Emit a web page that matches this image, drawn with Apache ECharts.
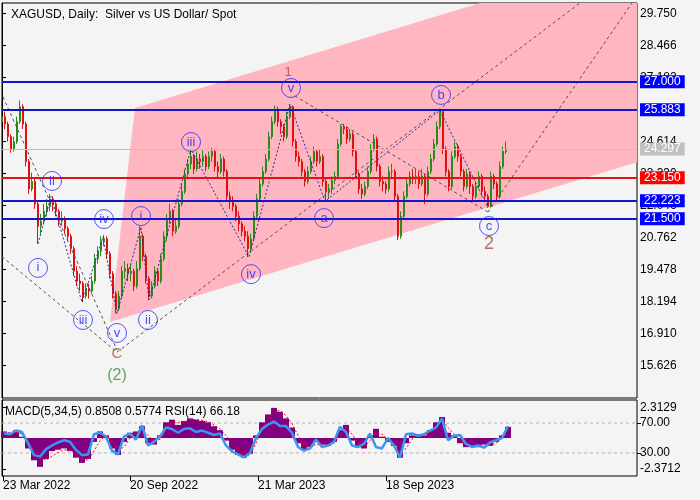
<!DOCTYPE html>
<html><head><meta charset="utf-8">
<script src="https://cdn.jsdelivr.net/npm/echarts@6/dist/echarts.min.js"></script>
<style>html,body{margin:0;padding:0;background:#f4f4f4}#c{width:700px;height:500px}</style>
</head><body><div id="c"></div>
<script>
// ---- price data (one candle per 3 trading days, day index 0 = 23 Mar 2022) ----
const candleStepDays = 3;
const firstOpen = 25.4;
const closes = [25.6,25.3,24.8,24.3,24.6,25.4,26.0,25.3,23.8,22.7,
23.0,22.1,21.2,21.4,21.8,22.0,22.3,22.1,21.8,21.4,
21.5,21.1,20.8,20.3,19.4,19.0,18.9,18.4,18.7,18.6,
19.0,19.9,20.2,20.6,20.7,20.1,19.3,18.5,17.9,18.4,
19.4,19.5,19.3,19.4,18.8,19.5,20.8,20.0,19.1,18.4,
18.8,19.4,19.0,19.9,20.8,21.5,21.8,21.0,21.2,22.1,
22.6,23.3,23.7,24.0,23.5,23.9,23.8,24.0,23.6,24.0,
24.2,23.6,23.4,23.9,23.4,22.4,22.2,22.0,21.6,21.3,
21.0,20.8,20.3,20.7,21.6,22.3,22.9,23.4,23.9,24.8,
25.4,25.9,25.4,25.2,24.8,25.6,26.0,24.6,24.0,23.8,
23.4,23.0,23.4,23.8,24.2,23.8,24.0,23.0,22.6,22.7,
23.05,23.2,24.5,25.2,25.1,24.7,24.9,24.2,23.3,22.7,
22.5,22.8,23.4,24.3,24.7,23.6,23.0,22.9,22.7,23.4,
23.4,22.4,20.8,21.6,22.4,22.9,23.2,23.1,23.2,22.9,
23.2,22.5,23.4,23.9,24.5,25.2,25.8,24.3,23.4,22.8,
24.0,24.4,24.0,23.4,22.8,23.3,22.8,22.4,22.8,23.2,
22.6,22.4,22.0,23.2,22.9,22.4,23.6,24.2,24.3];
const highs = [26.3,25.8,25.4,24.9,24.8,25.6,26.25,26.1,25.4,23.9,
23.35,23.1,22.2,21.7,22.1,22.3,22.5,22.4,22.2,21.9,
21.8,21.6,21.2,20.9,20.4,19.6,19.3,19.0,18.9,18.9,
19.2,20.1,20.4,20.8,20.85,20.8,20.2,19.4,18.6,18.6,
19.6,19.8,19.7,19.7,19.5,19.8,21.2,20.9,20.1,19.2,
19.0,19.6,19.5,20.1,21.0,21.7,22.1,21.9,21.5,22.3,
22.9,23.5,23.9,24.3,24.1,24.2,24.1,24.25,24.1,24.2,
24.35,24.3,23.8,24.1,24.0,23.5,22.6,22.4,22.1,21.8,
21.4,21.2,21.0,20.9,21.8,22.5,23.1,23.6,24.1,25.0,
25.6,26.05,26.0,25.5,25.3,25.8,26.1,26.05,24.7,24.2,
23.9,23.5,23.6,24.0,24.4,24.3,24.3,24.1,23.1,22.9,
23.2,23.4,24.7,25.3,25.3,25.2,25.1,25.0,24.3,23.4,
22.9,23.0,23.6,24.5,24.9,24.8,23.7,23.2,23.0,23.6,
23.7,23.5,22.5,21.8,22.6,23.1,23.4,23.5,23.5,23.4,
23.5,23.3,23.6,24.1,24.7,25.4,25.88,25.85,24.4,23.5,
24.2,24.6,24.5,24.1,23.5,23.5,23.4,22.9,23.0,23.4,
23.3,22.8,22.5,23.4,23.3,23.0,23.8,24.4,24.6];
const lows = [25.2,25.1,24.6,24.15,24.2,24.5,25.3,25.1,23.6,22.5,
22.6,21.9,20.5,20.9,21.3,21.6,21.8,21.8,21.6,21.2,
21.2,20.9,20.6,20.1,19.2,18.8,18.6,18.15,18.3,18.3,
18.5,18.9,19.7,20.0,20.4,19.9,19.1,18.3,17.7,17.8,
18.3,19.1,19.0,19.0,18.6,18.7,19.4,19.8,18.9,18.25,
18.3,18.7,18.8,18.9,19.8,20.6,21.3,20.8,20.9,21.1,
22.0,22.5,23.1,23.5,23.3,23.4,23.5,23.6,23.4,23.5,
23.8,23.4,23.1,23.3,23.2,22.2,21.9,21.8,21.4,21.0,
20.8,20.6,19.97,20.2,20.6,21.5,22.2,22.8,23.3,23.8,
24.7,25.3,25.2,24.9,24.6,24.7,25.5,24.4,23.8,23.6,
23.2,22.8,22.9,23.3,23.7,23.6,23.7,22.8,22.2,22.3,
22.5,22.9,23.1,24.4,24.9,24.5,24.6,24.0,23.1,22.5,
22.3,22.4,22.7,23.3,24.2,23.4,22.8,22.6,22.5,22.6,
23.1,22.2,20.65,20.7,21.5,22.3,22.8,22.9,22.9,22.7,
22.8,22.1,22.4,23.3,23.8,24.4,25.1,24.1,23.2,22.6,
22.7,23.9,23.8,23.2,22.6,22.7,22.5,22.2,22.3,22.7,
22.4,22.2,21.95,21.95,22.7,22.2,22.3,23.5,24.1];

// ---- indicator data (one point per 6 trading days) ----
const indStartDay = 2, indStepDays = 6;
const macdVals = [0.5,0.3,0.6,0.1,-0.8,-1.7,-2.2,-1.6,-1.0,-0.9,
-0.8,-1.0,-1.5,-1.9,-1.6,-0.3,0.5,0.2,-0.8,-1.3,
-0.3,0.4,0.5,0.9,-0.4,-0.5,0.2,1.2,1.4,1.0,
1.3,1.5,1.4,1.3,1.2,0.9,0.6,-0.2,-0.9,-1.3,
-1.5,-1.2,0.2,1.2,1.8,2.3,2.0,1.5,0.8,-0.4,
-0.9,-0.7,-0.3,-0.5,-0.6,-0.3,0.6,1.0,-0.2,-0.7,
-0.8,0.2,0.7,0.1,-0.3,-0.6,-1.5,-0.4,0.2,0.3,
0.2,0.6,1.2,1.6,0.4,0.2,-0.4,-0.7,-0.6,-0.7,
-0.5,-0.6,-0.3,0.2,0.85];
const signalVals = [0.4,0.4,0.45,0.3,-0.2,-0.9,-1.5,-1.7,-1.4,-1.1,
-0.9,-0.95,-1.2,-1.6,-1.7,-1.0,-0.2,0.2,-0.3,-0.9,
-0.7,0.0,0.4,0.7,0.2,-0.3,-0.1,0.7,1.2,1.2,
1.2,1.4,1.4,1.35,1.25,1.0,0.7,0.2,-0.5,-1.0,
-1.3,-1.3,-0.4,0.7,1.4,2.0,2.1,1.7,1.1,0.2,
-0.6,-0.7,-0.5,-0.5,-0.55,-0.4,0.2,0.8,0.3,-0.4,
-0.7,-0.2,0.4,0.3,-0.1,-0.4,-1.1,-0.8,-0.1,0.2,
0.2,0.4,0.9,1.4,0.8,0.3,-0.2,-0.5,-0.6,-0.65,
-0.55,-0.55,-0.4,0.0,0.58];
const rsiVals = [56,55,60,58,43,27,25,35,40,44,
47,45,34,27,28,55,57,52,33,28,
52,56,48,67,40,45,52,64,62,57,
62,63,58,60,57,54,56,40,32,28,
24,30,50,62,68,72,66,66,57,38,
33,36,48,38,40,45,65,58,40,38,
42,56,38,36,50,40,24,55,56,53,
55,60,64,76,47,53,54,42,38,40,
37,44,47,50,66];

// ---- axis ticks / labels ----
const priceTicks = [29.750,28.466,27.182,25.898,24.614,23.330,22.046,20.762,19.478,18.194,16.910,15.626];
const macdTicks = [2.3129,-2.3712];
const rsiTicks = [70,30];
const dateTickDays = [1,128,256,384];
const dateTickLabels = ['23 Mar 2022','20 Sep 2022','21 Mar 2023','18 Sep 2023'];
const titleText = 'XAGUSD, Daily:  Silver vs US Dollar/ Spot';
const indText = 'MACD(5,34,5) 0.8508 0.5774 RSI(14) 66.18';

// ---- levels ----
const blueLevels = [27.000,25.883,22.223,21.500];
const redLevel = 23.150;
const lastPrice = 24.297;

// ---- channel (day, price) ----
const channelDays = [133,478,635,635,108];
const channelPrices = [25.95,30.16,30.16,23.77,17.36];

// ---- trend / projection lines (day, price pairs) ----
const dashLines = [
  [[0,19.98],[115,16.15]],
  [[1,26.39],[115,16.23]],
  [[115,16.15],[578,30.16]],
  [[293,26.43],[486,21.77]],
  [[486,21.77],[630,30.16]]
];
// wave path
const waveDays = [36,49,80,101,115,139,147,189,247,288,323,438,486];
const wavePrices = [20.5,22.4,18.15,20.77,17.7,21.17,18.25,24.3,19.97,26.1,22.2,25.85,21.95];

// circled wave labels
const circText = ['ii','i','iii','iv','v','i','ii','iii','iv','v','a','b','c'];
const circDays = [50,36,81,102,115,139,146,189,249,289,322,439,487];
const circPrices = [23.02,19.53,17.44,21.49,16.92,21.61,17.44,24.58,19.28,26.75,21.53,26.47,21.21];
// plain labels
const plainText = ['1','C','(2)','2'];
const plainDays = [286,115,115,487];
const plainPrices = [27.39,16.07,15.19,20.49];
const plainColors = ['#a04848','#a0603c','#3f8f3f','#a04848'];
const plainSizes = [13,15,16,18];

// ---- build ----
const FONT = 'Liberation Sans';
const X_MAX = 635;
const candleData = closes.map((c,i)=>[i*candleStepDays, i?closes[i-1]:firstOpen, c, lows[i], highs[i]]);
const indDays = macdVals.map((v,i)=>indStartDay+i*indStepDays);

const chart = echarts.init(document.getElementById('c'), null, {renderer:'canvas'});
const levelLine = (v, color, bg, w) => ({
  yAxis: v,
  lineStyle:{color:color, width:w, type:'solid'},
  label:{show:true, position:'end', distance:3, formatter: v.toFixed(3), color:'#fff',
    backgroundColor:bg, padding:[1,4,0,4], fontSize:12, fontFamily:FONT}
});

const series = [];
series.push({
  type:'custom', xAxisIndex:0, yAxisIndex:0, z:1, silent:true, clip:true,
  data:[[channelDays[0], channelPrices[0]]],
  renderItem:(params, api)=>({
    type:'polygon',
    shape:{points: channelDays.map((d,i)=>api.coord([d, channelPrices[i]]))},
    style:{fill:'#ffb6c1'}
  })
});
series.push({
  type:'candlestick', xAxisIndex:0, yAxisIndex:0, z:3, barWidth:2,
  data:candleData,
  encode:{x:0, y:[1,2,3,4]},
  itemStyle:{color:'#2a8a1a', color0:'#e01010', borderColor:'#2a8a1a', borderColor0:'#e01010', borderWidth:1},
  markLine:{
    silent:true, symbol:['none','none'], animation:false, z:5,
    data:[
      levelLine(lastPrice,'#c0c0c0','#c0c0c0',1),
      levelLine(blueLevels[0],'#1414c8','#0000ff',2),
      levelLine(blueLevels[1],'#1414c8','#0000ff',2),
      levelLine(redLevel,'#e01414','#ff0000',2),
      levelLine(blueLevels[2],'#1414c8','#0000ff',2),
      levelLine(blueLevels[3],'#1414c8','#0000ff',2)
    ]
  }
});
dashLines.forEach(seg=>{
  series.push({type:'line', xAxisIndex:0, yAxisIndex:0, z:4, silent:true, symbol:'none',
    data:seg, lineStyle:{color:'#505050', width:1, type:[3,3]}});
});
series.push({type:'line', xAxisIndex:0, yAxisIndex:0, z:4, silent:true, symbol:'none',
  data:waveDays.map((d,i)=>[d,wavePrices[i]]),
  lineStyle:{color:'#2a2a9a', width:1, type:[2,2]}});
series.push({type:'scatter', xAxisIndex:0, yAxisIndex:0, z:6, silent:true,
  symbol:'circle', symbolSize:19,
  data:circDays.map((d,i)=>[d,circPrices[i],circText[i]]),
  itemStyle:{color:'rgba(0,0,0,0)', borderColor:'#2c2cff', borderWidth:1},
  label:{show:true, position:'inside', formatter:p=>p.data[2], color:'#2020ff', fontSize:13, fontFamily:FONT}
});
series.push({type:'scatter', xAxisIndex:0, yAxisIndex:0, z:6, silent:true,
  symbol:'circle', symbolSize:1, itemStyle:{color:'rgba(0,0,0,0)'},
  data:plainDays.map((d,i)=>({value:[d,plainPrices[i]],
    label:{show:true, position:'inside', formatter:plainText[i], color:plainColors[i], fontSize:plainSizes[i], fontFamily:FONT}}))
});
// indicators
series.push({type:'bar', xAxisIndex:1, yAxisIndex:1, z:2, silent:true, barWidth:6,
  data:indDays.map((d,i)=>[d,macdVals[i]]),
  itemStyle:{color:'#800080'}});
series.push({type:'line', xAxisIndex:1, yAxisIndex:1, z:3, silent:true, symbol:'none',
  data:indDays.map((d,i)=>[d,signalVals[i]]),
  lineStyle:{color:'#ff0000', width:1, type:[2,2]}});
rsiTicks.forEach(v=>{
  series.push({type:'line', xAxisIndex:1, yAxisIndex:2, z:1, silent:true, symbol:'none',
    data:[[0,v],[X_MAX,v]], lineStyle:{color:'#b4b4b4', width:1, type:[3,3]}});
});
series.push({type:'line', xAxisIndex:1, yAxisIndex:2, z:4, silent:true, symbol:'none',
  data:indDays.map((d,i)=>[d,rsiVals[i]]),
  lineStyle:{color:'#3a96f0', width:2.5}});

const axisLbl = {color:'#000', fontSize:12, fontFamily:FONT};
chart.setOption({
  animation:false,
  backgroundColor:'#f4f4f4',
  title:{text:titleText, left:6, top:4, textStyle:{fontSize:12, fontWeight:'normal', color:'#000', fontFamily:FONT}},
  graphic:[{type:'text', left:5, top:406, style:{text:indText, fontSize:12, fill:'#000', fontFamily:FONT}}],
  grid:[
    {left:2, right:63, top:3, height:395, show:true, borderColor:'#000', borderWidth:1, backgroundColor:'transparent'},
    {left:2, right:63, top:400, height:76, show:true, borderColor:'#000', borderWidth:1, backgroundColor:'transparent'}
  ],
  xAxis:[
    {type:'value', gridIndex:0, min:0, max:X_MAX, show:false},
    {type:'value', gridIndex:1, min:0, max:X_MAX, position:'bottom',
      axisLine:{show:false, onZero:false}, splitLine:{show:false},
      axisTick:{show:true, length:5, customValues:dateTickDays, lineStyle:{color:'#000'}},
      axisLabel:Object.assign({customValues:dateTickDays, align:'left', margin:4,
        formatter:v=>{const k=dateTickDays.indexOf(v); return k>=0?dateTickLabels[k]:'';}}, axisLbl)}
  ],
  yAxis:[
    {type:'value', gridIndex:0, position:'right', min:14.31, max:30.16, scale:true,
      axisLine:{show:true, lineStyle:{color:'#000'}}, splitLine:{show:false},
      axisTick:{show:true, length:4, customValues:priceTicks, lineStyle:{color:'#000'}},
      axisLabel:Object.assign({customValues:priceTicks, margin:3, formatter:v=>v.toFixed(3)}, axisLbl)},
    {type:'value', gridIndex:1, position:'right', min:-2.9, max:2.9,
      axisLine:{show:true, lineStyle:{color:'#000'}}, splitLine:{show:false},
      axisTick:{show:true, length:4, customValues:macdTicks, lineStyle:{color:'#000'}},
      axisLabel:Object.assign({customValues:macdTicks, margin:3, formatter:v=>v.toFixed(4)}, axisLbl)},
    {type:'value', gridIndex:1, position:'right', min:-1, max:101,
      axisLine:{show:false}, splitLine:{show:false},
      axisTick:{show:true, length:4, customValues:rsiTicks, lineStyle:{color:'#000'}},
      axisLabel:Object.assign({customValues:rsiTicks, margin:3, formatter:v=>v.toFixed(2)}, axisLbl)}
  ],
  series:series
});
</script></body></html>
